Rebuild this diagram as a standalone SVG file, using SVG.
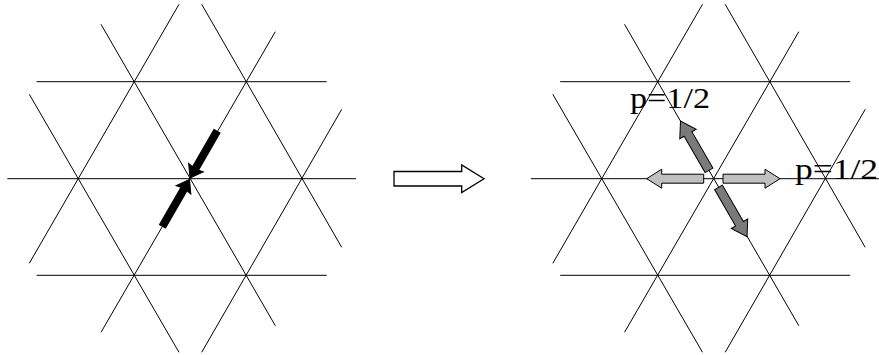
<svg xmlns="http://www.w3.org/2000/svg" xmlns:xlink="http://www.w3.org/1999/xlink" width="879" height="355" viewBox="0 0 879 355">
<style>
.ln{stroke:#000;stroke-width:1;fill:none}
.blk{fill:#000;stroke:#000;stroke-width:1}
.dk{fill:#7a7a7a;stroke:#000;stroke-width:1}
.lt{fill:#c0c0c0;stroke:#000;stroke-width:1}
.hol{fill:#fff;stroke:#000;stroke-width:1.3}
.lbl{font-family:"Liberation Serif","Times New Roman",serif;font-size:30px;fill:#000}
</style>
<defs>
<g id="lattice">
<line class="ln" x1="36.7" y1="81.7" x2="326.7" y2="81.7"/>
<line class="ln" x1="7.3" y1="178.7" x2="356" y2="178.7"/>
<line class="ln" x1="36.7" y1="275.3" x2="326.7" y2="275.3"/>
<line class="ln" x1="29.3" y1="94.3" x2="179" y2="352.3"/>
<line class="ln" x1="101" y1="24.3" x2="275.3" y2="325.7"/>
<line class="ln" x1="201.7" y1="4.3" x2="341.7" y2="247.3"/>
<line class="ln" x1="179" y1="4.3" x2="29.3" y2="263.3"/>
<line class="ln" x1="275.3" y1="31.7" x2="101" y2="332.3"/>
<line class="ln" x1="341.7" y1="109.3" x2="201.7" y2="352.3"/>
</g>
<polygon id="blackArrow" points="0,0 -12,-8.5 -11,-3.5 -54,-3.5 -54,3.5 -11,3.5 -12,8.5"/>
<polygon id="grayArrow" points="0,0 -15,-9.5 -15,-4.5 -57,-4.5 -57,4.5 -15,4.5 -15,9.5"/>
</defs>
<g id="left-lattice">
<use xlink:href="#lattice"/>
</g>
<g id="left-arrows">
<use xlink:href="#blackArrow" class="blk" transform="translate(190,178) rotate(120)"/>
<use xlink:href="#blackArrow" class="blk" transform="translate(189.5,179.5) rotate(-60)"/>
</g>
<g id="transition-arrow">
<polygon class="hol" points="394,171.5 461.7,171.5 461.7,165 484,178.7 461.7,192.5 461.7,186 394,186"/>
</g>
<g id="right-lattice">
<use xlink:href="#lattice" transform="translate(523.5,0)"/>
</g>
<g id="right-arrows">
<use xlink:href="#grayArrow" class="dk" transform="translate(680.5,121) rotate(-120)"/>
<use xlink:href="#grayArrow" class="dk" transform="translate(747,236.7) rotate(60)"/>
<use xlink:href="#grayArrow" class="lt" transform="translate(646.7,178.7) rotate(180)"/>
<use xlink:href="#grayArrow" class="lt" transform="translate(780,178.7)"/>
</g>
<g id="labels">
<text class="lbl" x="630" y="107.5" textLength="80" lengthAdjust="spacingAndGlyphs">p=1/2</text>
<text class="lbl" x="795" y="179" textLength="83" lengthAdjust="spacingAndGlyphs">p=1/2</text>
</g>
</svg>
